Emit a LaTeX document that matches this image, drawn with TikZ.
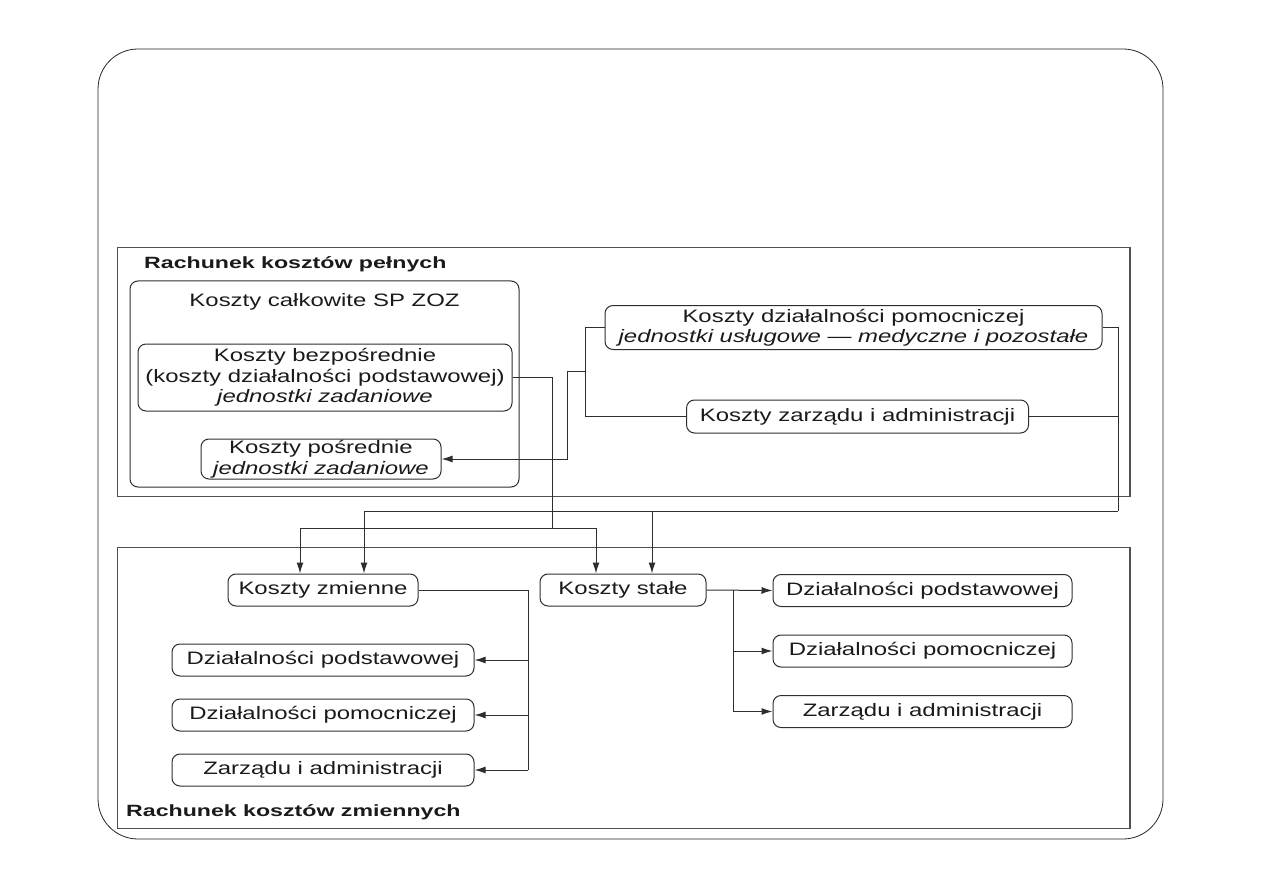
\documentclass[tikz,border=0pt]{standalone}
\usepackage{fontspec}
\setmainfont{Liberation Sans}[FakeStretch=1.33]
\newfontfamily\lblfont{Liberation Sans}[FakeStretch=1.42]
\usetikzlibrary{arrows.meta,calc}
\definecolor{ln}{HTML}{2E2E2E}
\definecolor{fr}{HTML}{505050}
\definecolor{tx}{HTML}{1A1A1A}
\newcommand{\fsz}{\fontsize{18}{20.5}\selectfont}
\newcommand{\fsb}{\lblfont\fontsize{16.3}{20}\selectfont\bfseries}
\tikzset{
  bx/.style={draw=ln, rounded corners=8pt, line width=1pt, align=center, inner sep=0pt, font=\fsz, text=tx},
  txt/.style={align=center, inner sep=0pt, font=\fsz, text=tx},
  lbl/.style={anchor=west, inner sep=0pt, font=\fsb, text=tx},
  cn/.style={draw=ln, line width=1pt},
  arr/.style={cn, -{Latex[length=11pt,width=7pt]}},
  frame/.style={draw=fr, line width=1pt}
}
\begin{document}
\begin{tikzpicture}[x=1pt,y=-1pt]
\useasboundingbox (0,0) rectangle (1263,893);
% outer frame
\draw[line width=0.8pt, draw=black!85, rounded corners=40pt] (98,49) rectangle (1163,839);
% section frames
\draw[frame] (117,248) rectangle (1130,496);
\draw[frame, line width=1.8pt] (1130,248) -- (1130,496);
\draw[frame] (117,547) rectangle (1130,828);
\draw[frame, line width=1.8pt] (1130,547) -- (1130,828);
\node[lbl] (l1) at (144,264) {Rachunek kosztów pełnych};
\node[lbl] (l2) at (126,812) {Rachunek kosztów zmiennych};

% top section
\node[bx, minimum width=389, minimum height=206] (kc) at (324.5,384) {};
\node[txt] (kct) at (324.5,302) {Koszty całkowite SP ZOZ};
\node[bx, minimum width=374, minimum height=67] (kb) at (325,377.5)
  {Koszty bezpośrednie\\(koszty działalności podstawowej)\\\textit{jednostki zadaniowe}};
\node[bx, minimum width=240, minimum height=40] (kpo) at (321,459)
  {Koszty pośrednie\\\textit{jednostki zadaniowe}};
\node[bx, minimum width=497, minimum height=44] (kp) at (853.5,327.5)
  {Koszty działalności pomocniczej\\\textit{jednostki usługowe — medyczne i pozostałe}};
\node[bx, minimum width=342, minimum height=33] (kza) at (857.5,416.5)
  {Koszty zarządu i administracji};

% bottom section
\node[bx, minimum width=190, minimum height=32] (kz) at (323,590) {Koszty zmienne};
\node[bx, minimum width=166, minimum height=32] (ks) at (623,590) {Koszty stałe};
\node[bx, minimum width=299, minimum height=32] (dp2) at (922.5,590.5) {Działalności podstawowej};
\node[bx, minimum width=299, minimum height=32] (dm2) at (922.5,651) {Działalności pomocniczej};
\node[bx, minimum width=299, minimum height=32] (za2) at (922.5,711.5) {Zarządu i administracji};
\node[bx, minimum width=302, minimum height=32] (dp1) at (323,660) {Działalności podstawowej};
\node[bx, minimum width=302, minimum height=32] (dm1) at (323,715) {Działalności pomocniczej};
\node[bx, minimum width=302, minimum height=32] (za1) at (323,770) {Zarządu i administracji};

% coordinates
\coordinate (j1) at (552,528);
\coordinate (a1) at (300,528);
\coordinate (a2) at (596,528);
\coordinate (j2) at (1118,511);
\coordinate (b1) at (364,511);
\coordinate (b2) at (652,511);
\coordinate (br) at (585,371);
\coordinate (bl) at (567,371);
\coordinate (v1) at (528,590);
\coordinate (v2) at (733,590);

% top connectors
\draw[cn] (kb.east) -| (j1);
\draw[cn] (a1) -- (a2);
\draw[arr] (a1) -- (a1 |- kz.north);
\draw[arr] (a2) -- (a2 |- ks.north);
\draw[cn] (kp.east) -| (j2);
\draw[cn] (kza.east) -- (kza.east -| j2);
\draw[cn] (j2) -- (b1);
\draw[arr] (b1) -- (b1 |- kz.north);
\draw[arr] (b2) -- (b2 |- ks.north);
\draw[cn] (kp.west) -| (br |- kza.west) -- (kza.west);
\draw[arr] (br) -- (bl) |- (kpo.east);

% bottom connectors
\draw[cn] (kz.east) -| (v1 |- za1.east);
\draw[arr] (v1 |- dp1.east) -- (dp1.east);
\draw[arr] (v1 |- dm1.east) -- (dm1.east);
\draw[arr] (v1 |- za1.east) -- (za1.east);
\draw[arr] (ks.east) -- (dp2.west);
\draw[cn] (v2) -- (v2 |- za2.west);
\draw[arr] (v2 |- dm2.west) -- (dm2.west);
\draw[arr] (v2 |- za2.west) -- (za2.west);
\end{tikzpicture}
\end{document}
